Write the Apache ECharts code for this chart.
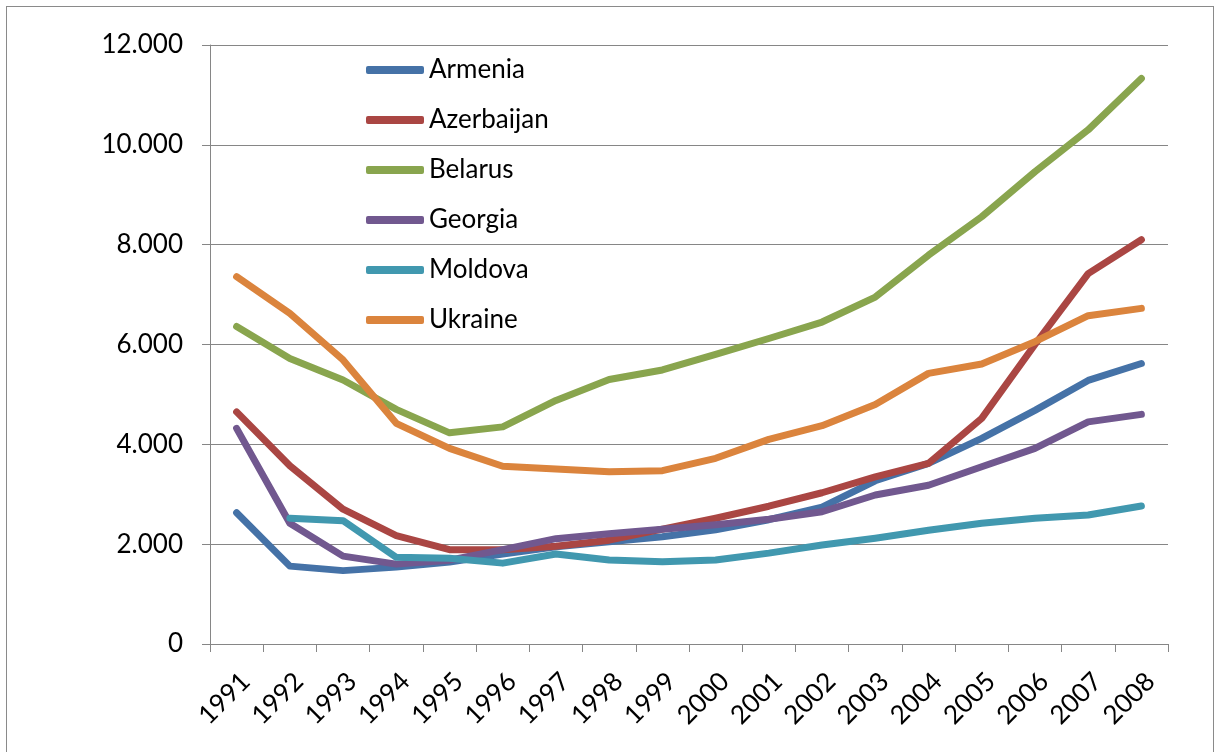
<!DOCTYPE html>
<html>
<head>
<meta charset="utf-8">
<script src="https://cdn.jsdelivr.net/npm/echarts@6/dist/echarts.min.js"></script>
<style>
html,body{margin:0;padding:0;background:#fff;overflow:hidden;}
#frame{position:absolute;left:6px;top:6px;width:1208px;height:780px;border:1px solid #8a8a8a;box-sizing:border-box;}
#chart{position:absolute;left:0;top:0;width:1216px;height:752px;}
</style>
</head>
<body>
<div id="frame"></div>
<div id="chart"></div>
<script>
var years = ['1991','1992','1993','1994','1995','1996','1997','1998','1999','2000','2001','2002','2003','2004','2005','2006','2007','2008'];
var armenia    = [2630, 1560, 1470, 1540, 1640, 1800, 1950, 2050, 2150, 2290, 2490, 2740, 3270, 3620, 4120, 4680, 5280, 5620];
var azerbaijan = [4650, 3570, 2700, 2170, 1890, 1890, 1960, 2080, 2300, 2520, 2760, 3030, 3350, 3620, 4520, 6000, 7420, 8100];
var belarus    = [6360, 5720, 5290, 4700, 4230, 4350, 4880, 5300, 5490, 5800, 6120, 6450, 6950, 7790, 8560, 9460, 10300, 11330];
var georgia    = [4320, 2420, 1760, 1600, 1680, 1890, 2110, 2210, 2300, 2390, 2500, 2650, 2985, 3180, 3550, 3920, 4450, 4600];
var moldova    = [null, 2520, 2470, 1736, 1716, 1620, 1803, 1683, 1649, 1683, 1820, 1983, 2120, 2280, 2420, 2517, 2584, 2764];
var ukraine    = [7360, 6625, 5690, 4420, 3920, 3560, 3506, 3452, 3472, 3720, 4100, 4374, 4800, 5422, 5609, 6056, 6577, 6724];

var names  = ['Armenia','Azerbaijan','Belarus','Georgia','Moldova','Ukraine'];
var values = [armenia, azerbaijan, belarus, georgia, moldova, ukraine];
var colors = ['#4572A7','#AA4643','#89A54E','#71588F','#4198AF','#DB843D'];

var FONT = 'Lato';
var chart = echarts.init(document.getElementById('chart'), null, {renderer:'canvas'});
chart.setOption({
  animation: false,
  backgroundColor: 'transparent',
  color: colors,
  grid: {left: 210, right: 48, top: 45, bottom: 108, containLabel: false},
  legend: {
    orient: 'vertical',
    left: 366, top: 55,
    padding: 0,
    icon: 'roundRect',
    itemWidth: 58, itemHeight: 8,
    itemGap: 20,
    textStyle: {fontFamily: FONT, fontSize: 26, color: '#000', lineHeight: 30},
    data: names
  },
  xAxis: {
    type: 'category',
    data: years,
    boundaryGap: true,
    axisLine: {lineStyle: {color: '#868686', width: 1}},
    axisTick: {show: true, length: 8, lineStyle: {color: '#868686'}},
    axisLabel: {rotate: 45, margin: 24, verticalAlign: 'top', fontFamily: FONT, fontSize: 26, color: '#000', interval: 0},
    splitLine: {show: false}
  },
  yAxis: {
    type: 'value',
    min: 0, max: 12000, interval: 2000,
    axisLine: {show: true, lineStyle: {color: '#868686', width: 1}},
    axisTick: {show: true, length: 8, lineStyle: {color: '#868686'}},
    axisLabel: {margin: 27, fontFamily: FONT, fontSize: 26, color: '#000',
      formatter: function(v){ return v === 0 ? '0' : (v/1000).toFixed(3); }},
    splitLine: {show: true, lineStyle: {color: '#868686', width: 1}}
  },
  series: names.map(function(n, i){
    return {
      name: n, type: 'line', data: values[i],
      showSymbol: false, symbol: 'none',
      connectNulls: false,
      lineStyle: {width: 7, color: colors[i], cap: 'round', join: 'round'},
      itemStyle: {color: colors[i]},
      emphasis: {disabled: true}
    };
  })
});
</script>
</body>
</html>
